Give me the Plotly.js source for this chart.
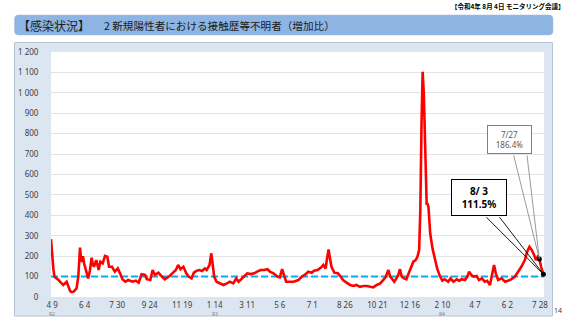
<!DOCTYPE html>
<html><head><meta charset="utf-8">
<script src="https://cdn.plot.ly/plotly-3.0.1.min.js"></script>
<style>html,body{margin:0;padding:0;background:#fff;}#chart{width:569px;height:320px;}</style>
</head><body><div id="chart"></div>
<script>
// ---- data ----
const dates = [
'2020-04-07','2020-04-09','2020-04-11','2020-04-13','2020-04-17','2020-04-20','2020-04-24','2020-04-28','2020-05-04','2020-05-07',
'2020-05-10','2020-05-13','2020-05-16','2020-05-21','2020-05-24','2020-05-27','2020-05-29','2020-05-31','2020-06-01','2020-06-03',
'2020-06-06','2020-06-10','2020-06-13','2020-06-16','2020-06-18','2020-06-20','2020-06-24','2020-06-28','2020-07-01','2020-07-05',
'2020-07-09','2020-07-13','2020-07-16','2020-07-21','2020-07-26','2020-07-31','2020-08-04','2020-08-08','2020-08-13','2020-08-18',
'2020-08-25','2020-08-31','2020-09-05','2020-09-10','2020-09-16','2020-09-19','2020-09-25','2020-09-29','2020-10-03','2020-10-09',
'2020-10-15','2020-10-20','2020-10-27','2020-11-04','2020-11-08','2020-11-12','2020-11-16','2020-11-21','2020-11-26','2020-11-30',
'2020-12-05','2020-12-09','2020-12-14','2020-12-19','2020-12-23','2020-12-28','2020-12-31','2021-01-05','2021-01-08','2021-01-10',
'2021-01-13','2021-01-17','2021-01-23','2021-01-29','2021-02-04','2021-02-09','2021-02-15','2021-02-20','2021-02-24','2021-02-28',
'2021-03-05','2021-03-11','2021-03-17','2021-03-23','2021-03-28','2021-04-03','2021-04-09','2021-04-15','2021-04-19','2021-04-25',
'2021-05-02','2021-05-06','2021-05-10','2021-05-13','2021-05-17','2021-05-24','2021-05-30','2021-06-07','2021-06-13','2021-06-18',
'2021-06-24','2021-06-30','2021-07-04','2021-07-10','2021-07-16','2021-07-20','2021-07-24','2021-07-26','2021-07-29','2021-07-31',
'2021-08-03','2021-08-08','2021-08-14','2021-08-18','2021-08-23','2021-08-29','2021-09-04','2021-09-10','2021-09-15','2021-09-21',
'2021-09-27','2021-10-03','2021-10-08','2021-10-14','2021-10-20','2021-10-26','2021-10-31','2021-11-04','2021-11-09','2021-11-12',
'2021-11-16','2021-11-19','2021-11-23','2021-11-26','2021-11-29','2021-12-02','2021-12-06','2021-12-10','2021-12-14','2021-12-18',
'2021-12-22','2021-12-26','2021-12-29','2022-01-01','2022-01-03','2022-01-05','2022-01-07','2022-01-09','2022-01-12','2022-01-14',
'2022-01-15','2022-01-17','2022-01-20','2022-01-24','2022-01-28','2022-02-01','2022-02-06','2022-02-10','2022-02-14','2022-02-20',
'2022-02-24','2022-03-01','2022-03-07','2022-03-11','2022-03-15','2022-03-21','2022-03-25','2022-03-28','2022-04-01','2022-04-05',
'2022-04-10','2022-04-14','2022-04-19','2022-04-24','2022-04-28','2022-05-03','2022-05-07','2022-05-10','2022-05-13','2022-05-17',
'2022-05-23','2022-05-29','2022-06-03','2022-06-09','2022-06-15','2022-06-21','2022-06-26','2022-07-02','2022-07-06','2022-07-10',
'2022-07-14','2022-07-18','2022-07-21','2022-07-24','2022-07-27','2022-07-30','2022-08-03'
];
const ratio = [
283,200,140,99,92,83,70,59,75,50,
29,24,26,42,100,242,180,173,200,165,
132,91,130,192,160,148,181,132,173,165,
201,197,148,148,124,140,116,87,75,83,
75,80,70,111,108,87,83,132,108,119,
100,87,100,124,132,157,136,148,116,100,
91,119,129,132,127,140,132,157,214,170,
100,75,67,59,67,75,67,91,75,87,
100,116,112,116,124,132,132,136,124,116,
100,96,136,108,75,75,75,83,100,108,
124,119,129,132,144,157,140,181,233,197,
148,119,116,103,83,70,59,54,59,50,
54,54,50,47,59,67,83,96,132,100,
87,75,91,108,136,100,91,87,116,148,
173,181,197,230,420,834,1103,998,671,451,
460,442,312,238,181,140,100,80,87,75,
91,75,87,79,87,83,100,124,108,100,
103,83,91,75,79,59,116,157,116,83,
91,75,79,87,100,124,148,181,222,246,
230,206,181,197,186.4,148,111.5
];
const baseline = 100;
const xRange = ['2020-04-07','2022-08-04'];
const calloutDates = ['2022-07-27','2022-08-03'];
const calloutValues = [186.4, 111.5];
const calloutLabels = ['7/27<br>186.4%','<b>8/ 3<br>111.5%</b>'];
const xTickVals = ['2020-04-09','2020-06-04','2020-07-30','2020-09-24','2020-11-19','2021-01-14','2021-03-11','2021-05-06',
  '2021-07-01','2021-08-26','2021-10-21','2021-12-16','2022-02-10','2022-04-07','2022-06-02','2022-07-28'];
const xTickText = ['4 9','6 4','7 30','9 24','11 19','1 14','3 11','5 6','7 1','8 26','10 21','12 16','2 10','4 7','6 2','7 28'];
const eraDates = ['2020-04-09','2021-01-14','2022-02-10'];
const eraLabels = ['R2','R3','R4'];
const yTickVals = [0,100,200,300,400,500,600,700,800,900,1000,1100,1200];
const yTickText = ['0','100','200','300','400','500','600','700','800','900','1 000','1 100','1 200'];

// ---- layout helpers (pixel -> paper) ----
const M = {l:51, r:25, t:52, b:23};
const W = 569, H = 320;
const PW = W - M.l - M.r, PH = H - M.t - M.b;
const px = x => (x - M.l) / PW;
const py = y => (H - M.b - y) / PH;

function roundRect(x0, y0, x1, y1, r) {
  const X0 = px(x0), X1 = px(x1), Y0 = py(y1), Y1 = py(y0);
  const rx = r / PW, ry = r / PH;
  return `M ${X0+rx},${Y1} L ${X1-rx},${Y1} Q ${X1},${Y1} ${X1},${Y1-ry} L ${X1},${Y0+ry} Q ${X1},${Y0} ${X1-rx},${Y0} ` +
         `L ${X0+rx},${Y0} Q ${X0},${Y0} ${X0},${Y0+ry} L ${X0},${Y1-ry} Q ${X0},${Y1} ${X0+rx},${Y1} Z`;
}

const FONT = 'Noto Sans, Noto Sans CJK JP, sans-serif';
const JFONT = 'Noto Sans CJK JP, sans-serif';

const traces = [
  {x: xRange, y: [baseline, baseline], mode: 'lines', line: {color: '#00b0f0', width: 2, dash: '7px,3px'}, hoverinfo: 'skip'},
  {x: dates, y: ratio, mode: 'lines', line: {color: '#ff0000', width: 2.6}, hoverinfo: 'skip'},
  {x: calloutDates, y: calloutValues, mode: 'markers', marker: {color: '#000', size: 5}, hoverinfo: 'skip', cliponaxis: false}
];

const annotations = [
  {xref:'paper', yref:'paper', x: px(566), y: py(6), xanchor:'right', yanchor:'middle', showarrow:false,
   text:'<b>【令和4年 8月 4日 モニタリング会議】</b>', font:{family:JFONT, size:6.5, color:'#000'}},
  {xref:'paper', yref:'paper', x: px(16), y: py(25.5), xanchor:'left', yanchor:'middle', showarrow:false,
   text:'【感染状況】', font:{family:JFONT, size:12, color:'#1a1a1a'}},
  {xref:'paper', yref:'paper', x: px(102), y: py(25.5), xanchor:'left', yanchor:'middle', showarrow:false,
   text:'2 新規陽性者における接触歴等不明者（増加比）', font:{family:JFONT, size:10.6, color:'#1a1a1a'}},
  {xref:'paper', yref:'paper', x: px(558), y: py(310), xanchor:'center', yanchor:'middle', showarrow:false,
   text:'14', font:{family:FONT, size:7, color:'#404040'}},
  // callout lines
  {x: calloutDates[0], y: calloutValues[0], ax: -26, ay: -105, text:'', showarrow:true, arrowhead:0, arrowwidth:0.8, arrowcolor:'#7f7f7f', standoff:0},
  {x: calloutDates[0], y: calloutValues[0], ax: -12.5, ay: -105, text:'', showarrow:true, arrowhead:0, arrowwidth:0.8, arrowcolor:'#7f7f7f', standoff:0},
  {x: calloutDates[1], y: calloutValues[1], ax: -58.5, ay: -58.5, text:'', showarrow:true, arrowhead:0, arrowwidth:0.9, arrowcolor:'#000', standoff:0},
  {x: calloutDates[1], y: calloutValues[1], ax: -45, ay: -58.5, text:'', showarrow:true, arrowhead:0, arrowwidth:0.9, arrowcolor:'#000', standoff:0},
  // callout boxes
  {x: calloutDates[0], y: calloutValues[0], xshift: -29.5, yshift: 119.5, showarrow:false, text: calloutLabels[0],
   xanchor:'center', yanchor:'middle', width:41, height:25, bgcolor:'#fff', bordercolor:'#7f7f7f', borderwidth:1, borderpad:1,
   font:{family:FONT, size:8, color:'#595959'}},
  {x: calloutDates[1], y: calloutValues[1], xshift: -64, yshift: 77, showarrow:false, text: calloutLabels[1],
   xanchor:'center', yanchor:'middle', width:52, height:33, bgcolor:'#fff', bordercolor:'#000', borderwidth:1, borderpad:1,
   font:{family:FONT, size:10, color:'#000'}}
];
eraDates.forEach((d, i) => annotations.push({
  x: d, xref:'x', yref:'paper', y: py(313.5), xanchor:'center', yanchor:'middle', showarrow:false,
  text: eraLabels[i], font:{family:FONT, size:5, color:'#808080'}
}));

const layout = {
  width: W, height: H,
  margin: {l:M.l, r:M.r, t:M.t, b:M.b, pad:0},
  paper_bgcolor: '#fff', plot_bgcolor: '#fff',
  showlegend: false,
  font: {family: FONT, color: '#404040'},
  xaxis: {type:'date', range: xRange, tickmode:'array', tickvals: xTickVals, ticktext: xTickText,
          showgrid:false, zeroline:false, showline:false, ticks:'outside', ticklen:0.5, tickcolor:'rgba(0,0,0,0)',
          tickfont:{family:FONT, size:8, color:'#404040'}, fixedrange:true},
  yaxis: {range:[0,1200], tickmode:'array', tickvals: yTickVals, ticktext: yTickText,
          showgrid:true, gridcolor:'#e3e3e3', gridwidth:1, zeroline:false, showline:false,
          ticks:'outside', ticklen:10, tickcolor:'rgba(0,0,0,0)',
          tickfont:{family:FONT, size:8, color:'#404040'}, fixedrange:true},
  shapes: [
    {type:'rect', xref:'paper', yref:'paper', x0: px(14.5), x1: px(552.5), y0: py(316), y1: py(42.5), layer:'below',
     fillcolor:'#dce6f1', line:{color:'#b7c3d0', width:1}},
    {type:'rect', xref:'paper', yref:'paper', x0: 0, x1: 1, y0: 0, y1: 1, layer:'below',
     fillcolor:'#ffffff', line:{width:0}},
    {type:'path', xref:'paper', yref:'paper', path: roundRect(14.5, 15, 553, 35, 4), layer:'below',
     fillcolor:'#8db4e2', line:{color:'#9dbde6', width:0.5}}
  ],
  annotations: annotations
};

Plotly.newPlot('chart', traces, layout, {staticPlot:true, displayModeBar:false});
</script>
</body></html>
